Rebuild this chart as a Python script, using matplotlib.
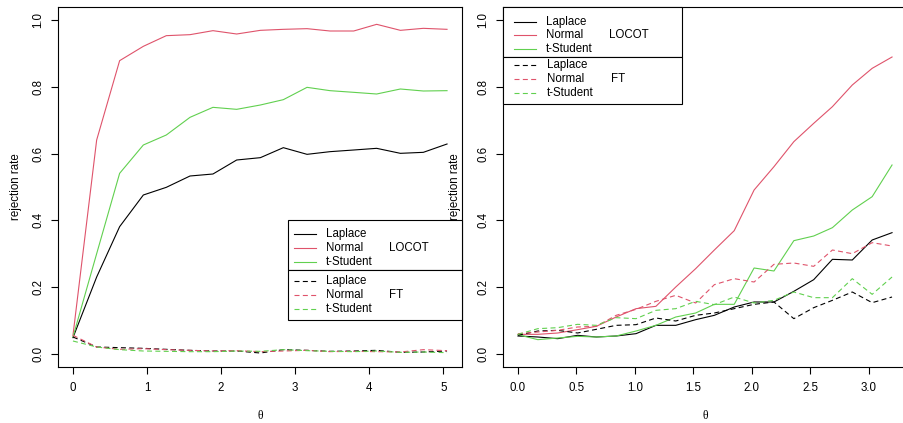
import numpy as np
import matplotlib
matplotlib.use('Agg')
import matplotlib.pyplot as plt
from matplotlib.patches import Rectangle

plt.rcParams['font.family'] = ['Liberation Sans', 'DejaVu Sans']
plt.rcParams['font.size'] = 8.3

# Data
theta_left = [0, 0.32, 0.63, 0.95, 1.26, 1.58, 1.89, 2.21, 2.53, 2.84, 3.16,
              3.47, 3.79, 4.10, 4.42, 4.73, 5.05]
locot_lap_left = [0.048, 0.230, 0.381, 0.476, 0.499, 0.533, 0.539, 0.581, 0.588,
                  0.618, 0.598, 0.606, 0.611, 0.616, 0.601, 0.604, 0.629]
locot_norm_left = [0.055, 0.641, 0.879, 0.922, 0.954, 0.957, 0.969, 0.959, 0.970,
                   0.973, 0.975, 0.968, 0.968, 0.988, 0.970, 0.976, 0.973]
locot_t_left = [0.050, 0.300, 0.541, 0.626, 0.656, 0.709, 0.739, 0.733, 0.746,
                0.762, 0.799, 0.789, 0.784, 0.779, 0.794, 0.788, 0.789]
ft_lap_left = [0.050, 0.020, 0.018, 0.016, 0.013, 0.010, 0.008, 0.008, 0.002,
               0.012, 0.010, 0.007, 0.008, 0.010, 0.004, 0.005, 0.008]
ft_norm_left = [0.055, 0.020, 0.013, 0.015, 0.012, 0.010, 0.008, 0.009, 0.006,
                0.008, 0.010, 0.006, 0.007, 0.006, 0.005, 0.012, 0.009]
ft_t_left = [0.038, 0.020, 0.012, 0.008, 0.007, 0.006, 0.006, 0.008, 0.007,
             0.012, 0.009, 0.007, 0.006, 0.008, 0.004, 0.005, 0.003]

theta_right = [0, 0.17, 0.34, 0.51, 0.67, 0.84, 1.01, 1.18, 1.35, 1.52, 1.68,
               1.85, 2.02, 2.19, 2.36, 2.53, 2.69, 2.86, 3.03, 3.20]
locot_lap_right = [0.053, 0.050, 0.045, 0.055, 0.050, 0.053, 0.060, 0.085, 0.085, 0.102,
                   0.115, 0.140, 0.155, 0.155, 0.187, 0.222, 0.283, 0.281, 0.341, 0.363]
locot_norm_right = [0.058, 0.058, 0.062, 0.072, 0.082, 0.110, 0.135, 0.142, 0.200, 0.255,
                    0.311, 0.369, 0.491, 0.561, 0.636, 0.691, 0.741, 0.806, 0.856, 0.890]
locot_t_right = [0.057, 0.042, 0.047, 0.052, 0.050, 0.053, 0.068, 0.085, 0.110, 0.122,
                 0.148, 0.148, 0.257, 0.248, 0.339, 0.353, 0.378, 0.431, 0.471, 0.566]
ft_lap_right = [0.055, 0.068, 0.070, 0.062, 0.073, 0.085, 0.087, 0.107, 0.098, 0.115,
                0.122, 0.135, 0.148, 0.155, 0.105, 0.138, 0.160, 0.185, 0.153, 0.170]
ft_norm_right = [0.060, 0.065, 0.070, 0.080, 0.082, 0.115, 0.133, 0.157, 0.175, 0.152,
                 0.207, 0.225, 0.215, 0.268, 0.272, 0.262, 0.311, 0.300, 0.333, 0.323]
ft_t_right = [0.058, 0.075, 0.078, 0.088, 0.085, 0.108, 0.105, 0.130, 0.135, 0.157,
              0.147, 0.170, 0.152, 0.160, 0.185, 0.168, 0.168, 0.225, 0.178, 0.230]

dist_names = ['Laplace', 'Normal', 't-Student']
colors = ['black', '#DF536B', '#61D04F']
lw = 0.8
dash = (4.5, 3)


def draw_key(ax, box, ys, xs, ls, group):
    # box: x0, x1, y0, y1 in axes fraction; xs: line start, line end, text, group label
    x0, x1, y0, y1 = box
    ax.add_patch(Rectangle((x0, y0), x1 - x0, y1 - y0, transform=ax.transAxes,
                           fc='white', ec='black', lw=0.8, clip_on=False, zorder=5))
    for y, name, col in zip(ys, dist_names, colors):
        ln, = ax.plot(xs[:2], [y, y], transform=ax.transAxes, color=col, lw=lw,
                      clip_on=False, zorder=6)
        if ls == 'dashed':
            ln.set_dashes(dash)
        ax.text(xs[2], y, name, transform=ax.transAxes, va='center', ha='left', zorder=6)
    ax.text(xs[3], ys[1], group, transform=ax.transAxes, va='center', ha='left', zorder=6)


fig = plt.figure(figsize=(9.04, 4.23), dpi=100)
W, H = 904, 423
ax1 = fig.add_axes([58 / W, 56 / H, 404 / W, 360 / H])
ax2 = fig.add_axes([503 / W, 56 / H, 404 / W, 360 / H])

panels = [
    (ax1, theta_left, [locot_lap_left, locot_norm_left, locot_t_left],
     [ft_lap_left, ft_norm_left, ft_t_left]),
    (ax2, theta_right, [locot_lap_right, locot_norm_right, locot_t_right],
     [ft_lap_right, ft_norm_right, ft_t_right]),
]

for ax, th, locot, ft in panels:
    for ys, col in zip(locot, colors):
        ax.plot(th, ys, color=col, lw=lw)
    for ys, col in zip(ft, colors):
        ln, = ax.plot(th, ys, color=col, lw=lw)
        ln.set_dashes(dash)
    span = th[-1] - th[0]
    ax.set_xlim(th[0] - 0.04 * span, th[-1] + 0.04 * span)
    ax.set_ylim(-0.04, 1.04)
    ax.set_yticks([0, 0.2, 0.4, 0.6, 0.8, 1.0])
    ax.set_yticklabels(['0.0', '0.2', '0.4', '0.6', '0.8', '1.0'])
    ax.tick_params(direction='out', length=5, width=0.8, color='black', pad=5)
    ax.tick_params(axis='x', pad=6)
    ax.tick_params(axis='y', labelrotation=90)
    for lab in ax.get_yticklabels():
        lab.set_va('center')
    for sp in ax.spines.values():
        sp.set_linewidth(0.8)
        sp.set_color('black')
    ax.set_xlabel('θ', family=['Liberation Serif', 'DejaVu Serif'], fontsize=8.5,
                  va='center')
    ax.xaxis.set_label_coords(0.5, -0.136)
    ax.set_ylabel('rejection rate', va='center')

ax1.set_xticks([0, 1, 2, 3, 4, 5])
ax2.set_xticks([0, 0.5, 1.0, 1.5, 2.0, 2.5, 3.0])
ax2.set_xticklabels(['0.0', '0.5', '1.0', '1.5', '2.0', '2.5', '3.0'])
ax1.yaxis.set_label_coords(-0.104, 0.5)
ax2.yaxis.set_label_coords(-0.119, 0.5)

# keys
draw_key(ax1, (0.569, 1.0, 0.2686, 0.4075), [0.3686, 0.3297, 0.2908],
         [0.584, 0.6386, 0.6634, 0.8193], 'solid', 'LOCOT')
draw_key(ax1, (0.569, 1.0, 0.1297, 0.2686), [0.2389, 0.2000, 0.1611],
         [0.584, 0.6386, 0.6634, 0.8193], 'dashed', 'FT')
draw_key(ax2, (0.0, 0.4423, 0.8603, 1.0), [0.9592, 0.9214, 0.8825],
         [0.028, 0.0817, 0.1064, 0.2631], 'solid', 'LOCOT')
draw_key(ax2, (0.0, 0.4423, 0.7306, 0.8603), [0.8389, 0.8000, 0.7619],
         [0.028, 0.0817, 0.108, 0.2666], 'dashed', 'FT')

fig.savefig('out.png', dpi=100)
